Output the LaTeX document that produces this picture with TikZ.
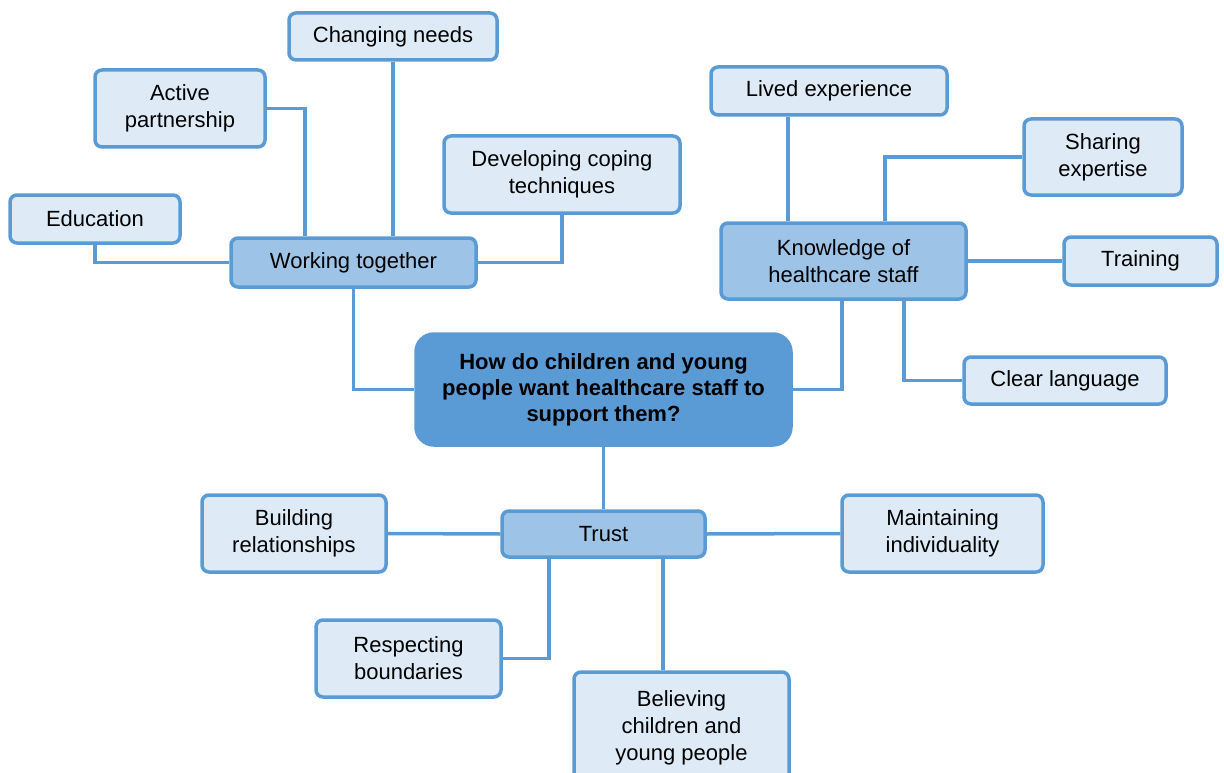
\documentclass[tikz,border=0pt]{standalone}
\usepackage{fontspec}
\setmainfont{Liberation Sans}
\usetikzlibrary{backgrounds}
\definecolor{bord}{HTML}{5B9BD5}
\definecolor{light}{HTML}{DEEBF7}
\definecolor{mid}{HTML}{9DC3E6}
\definecolor{core}{HTML}{5B9BD5}
\begin{document}
\begin{tikzpicture}[x=1pt,y=-1pt,
  box/.style={draw=bord,line width=3.5pt,rounded corners=7pt,fill=light,align=center,
    font=\fontsize{22}{27}\selectfont,inner sep=0pt},
  hub/.style={box,fill=mid},
  core/.style={box,fill=core,rounded corners=18pt,font=\fontsize{22}{26}\selectfont\bfseries},
  link/.style={draw=bord,line width=3.5pt}]
\clip (0,0) rectangle (1224,773);
\useasboundingbox (0,0) rectangle (1224,773);
\node[box,minimum width=208pt,minimum height=47pt] (chg) at (393,36.5) {Changing needs};
\node[box,minimum width=170pt,minimum height=77pt] (act) at (180,108.5) {Active\\partnership};
\node[box,minimum width=236pt,minimum height=77pt] (dev) at (562,174.5) {Developing coping\\techniques};
\node[box,minimum width=170pt,minimum height=48pt] (edu) at (95,219) {Education};
\node[hub,minimum width=245pt,minimum height=49pt] (wt) at (353.5,262.5) {Working together};
\node[box,minimum width=236pt,minimum height=48pt] (lived) at (829,91) {Lived experience};
\node[box,minimum width=158pt,minimum height=76pt] (share) at (1103,157) {Sharing\\expertise};
\node[hub,minimum width=245pt,minimum height=76pt] (know) at (843.5,261) {Knowledge of\\healthcare staff};
\node[box,minimum width=153pt,minimum height=48pt] (train) at (1140.5,261) {Training};
\node[box,minimum width=202pt,minimum height=47pt] (clear) at (1065,380.5) {Clear language};
\node[core,minimum width=375pt,minimum height=111pt] (q) at (603.5,389.5) {How do children and young\\people want healthcare staff to\\support them?};
\node[hub,minimum width=203pt,minimum height=46pt] (trust) at (603.5,534) {Trust};
\node[box,minimum width=184pt,minimum height=77pt] (build) at (294,533.5) {Building\\relationships};
\node[box,minimum width=201pt,minimum height=77pt] (maint) at (942.5,533.5) {Maintaining\\individuality};
\node[box,minimum width=185pt,minimum height=77pt] (resp) at (408.5,658.5) {Respecting\\boundaries};
\node[box,minimum width=215pt,minimum height=112pt] (bel) at (681.5,728) {Believing\\children and\\young people};
\coordinate (tb) at ([xshift=59.5pt]trust.south);
\begin{scope}[on background layer]
\draw[link] (chg.south) -- (chg.south |- wt.north);
\draw[link] (act.east) -| ([xshift=-48.5pt]wt.north);
\draw[link] (dev.south) |- (wt.east);
\draw[link] (edu.south) |- (wt.west);
\draw[link] (wt.south) |- (q.west);
\draw[link] ([xshift=-41pt]lived.south) -- ([xshift=-55.5pt]know.north);
\draw[link] (share.west) -| ([xshift=41.5pt]know.north);
\draw[link] (know.east) -- (train.west);
\draw[link] ([xshift=60.5pt]know.south) |- (clear.west);
\draw[link] ([xshift=-1.5pt]know.south) |- (q.east);
\draw[link] (q.south) -- (trust.north);
\draw[link] (build.east) -- (trust.west);
\draw[link] (trust.east) -- (maint.west);
\draw[link] (resp.east) -| ([xshift=-54.5pt]trust.south);
\draw[link] (tb) -- (tb |- bel.north);
\end{scope}
\end{tikzpicture}
\end{document}
